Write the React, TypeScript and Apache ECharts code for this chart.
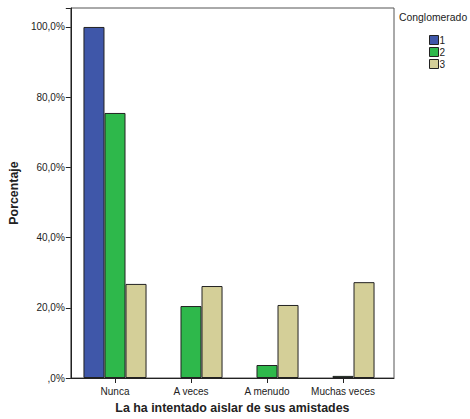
import React, { useEffect, useRef } from "react";
import * as echarts from "echarts";

const categories = ["Nunca", "A veces", "A menudo", "Muchas veces"];
const seriesNames = ["1", "2", "3"];
const cluster1 = [100, null, null, null];
const cluster2 = [75.5, 20.5, 3.7, 0.6];
const cluster3 = [26.8, 26.2, 20.8, 27.3];
const colors = ["#3f57a9", "#2eb84b", "#d4cf98"];

export default function App() {
  const ref = useRef<HTMLDivElement>(null);
  useEffect(() => {
    if (!ref.current) return;
    const chart = echarts.init(ref.current, null, { renderer: "svg" });
    const font = "Liberation Sans, Arial, sans-serif";
    const yMax = 105.4;
    const mkSeries = (name: string, data: (number | null)[], i: number) => ({
      name,
      type: "bar",
      xAxisIndex: 1,
      yAxisIndex: 1,
      data,
      barGap: "0%",
      barCategoryGap: "17%",
      itemStyle: { color: colors[i], borderColor: "#222", borderWidth: 1 },
    });
    chart.setOption({
      animation: false,
      backgroundColor: "#fff",
      textStyle: { fontFamily: font },
      grid: [
        { left: 67, top: 8, width: 327, height: 370, show: true, borderColor: "#555", borderWidth: 1, backgroundColor: "#fff" },
        { left: 77, top: 8, width: 304, height: 370 },
      ],
      xAxis: [
        {
          gridIndex: 0,
          type: "value",
          min: 0,
          max: 1,
          axisLabel: { show: false },
          axisTick: { show: false },
          splitLine: { show: false },
          axisLine: { show: true, lineStyle: { color: "#222", width: 1 } },
          name: "La ha intentado aislar de sus amistades",
          nameLocation: "middle",
          nameGap: 24,
          nameTextStyle: { fontSize: 12.4, fontWeight: "bold", color: "#222", fontFamily: font },
        },
        {
          gridIndex: 1,
          type: "category",
          data: categories,
          axisLine: { show: false },
          axisTick: { show: true, alignWithLabel: true, length: 5, lineStyle: { color: "#222" } },
          axisLabel: { fontSize: 10, color: "#222", margin: 8, fontFamily: font, interval: 0 },
        },
      ],
      yAxis: [
        {
          gridIndex: 0,
          type: "value",
          min: 0,
          max: yMax,
          interval: 20,
          axisLine: { show: true, lineStyle: { color: "#222", width: 1 } },
          axisTick: { show: true, length: 5, lineStyle: { color: "#222" } },
          splitLine: { show: false },
          axisLabel: {
            fontSize: 10,
            color: "#222",
            margin: 6,
            fontFamily: font,
            formatter: (v: number) => {
              if (Math.abs(v % 20) > 0.001) return "";
              return v === 0 ? ",0%" : v.toFixed(1).replace(".", ",") + "%";
            },
          },
          name: "Porcentaje",
          nameLocation: "middle",
          nameGap: 44,
          nameTextStyle: { fontSize: 12.4, fontWeight: "bold", color: "#222", fontFamily: font },
        },
        {
          gridIndex: 1,
          type: "value",
          min: 0,
          max: yMax,
          show: false,
        },
      ],
      legend: {
        orient: "vertical",
        left: 424,
        top: 30,
        itemWidth: 9,
        itemHeight: 9,
        itemGap: 2,
        data: seriesNames,
        textStyle: { fontSize: 10, color: "#222", padding: [0, 0, 0, -4], fontFamily: font },
        itemStyle: { borderColor: "#222", borderWidth: 1 },
        icon: "rect",
      },
      graphic: [
        {
          type: "text",
          left: 399,
          top: 12,
          style: { text: "Conglomerado", fontSize: 10.4, fill: "#222", fontFamily: font },
        },
      ],
      series: [
        mkSeries("1", cluster1, 0),
        mkSeries("2", cluster2, 1),
        mkSeries("3", cluster3, 2),
      ],
    });
    return () => chart.dispose();
  }, []);
  return <div ref={ref} style={{ width: 470, height: 419, position: "fixed", left: 0, top: 0 }} />;
}
